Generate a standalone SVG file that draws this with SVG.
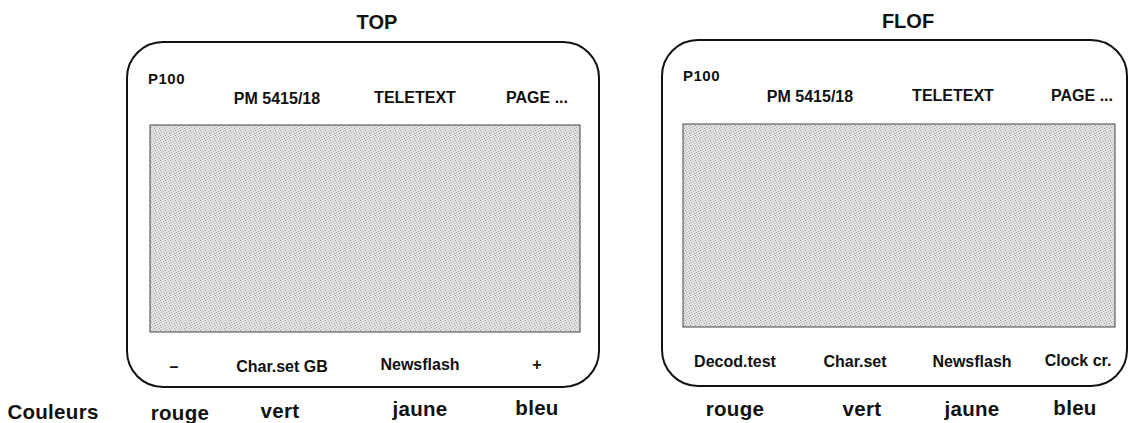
<svg xmlns="http://www.w3.org/2000/svg" width="1136" height="423" viewBox="0 0 1136 423">
<defs>
<pattern id="dots" width="5" height="5" patternUnits="userSpaceOnUse">
<rect width="5" height="5" fill="#e2e2e2"/>
<rect x="0" y="0" width="1" height="1" fill="#9a9a9a"/>
<rect x="3" y="1" width="1" height="1" fill="#b4b4b4"/>
<rect x="1" y="2" width="1" height="1" fill="#a8a8a8"/>
<rect x="4" y="3" width="1" height="1" fill="#a0a0a0"/>
<rect x="2" y="4" width="1" height="1" fill="#bcbcbc"/>
</pattern>
</defs>
<style>
text{font-family:"Liberation Sans",Arial,sans-serif;font-weight:bold;fill:#111}
.t{font-size:20px;text-anchor:middle}
.s{font-size:16px;text-anchor:middle}
.p{font-size:15px;letter-spacing:0.5px}
.c{font-size:20.5px;text-anchor:middle;letter-spacing:0.3px}
.frame{fill:none;stroke:#111;stroke-width:2}
.screen{fill:url(#dots);stroke:#444;stroke-width:1}
</style>
<rect width="1136" height="423" fill="#fff"/>
<g id="top">
<text class="t" x="377" y="29">TOP</text>
<rect class="frame" x="127" y="42" width="472" height="345" rx="36" ry="36"/>
<text class="p" x="148" y="84">P100</text>
<text class="s" x="277" y="104">PM 5415/18</text>
<text class="s" x="415" y="103">TELETEXT</text>
<text class="s" x="537" y="103">PAGE ...</text>
<rect class="screen" x="150" y="125" width="430" height="207"/>
<text class="s" x="174" y="372">–</text>
<text class="s" x="282" y="372">Char.set GB</text>
<text class="s" x="420" y="370">Newsflash</text>
<text class="s" x="537" y="370">+</text>
</g>
<g id="flof">
<text class="t" x="908" y="28">FLOF</text>
<rect class="frame" x="662" y="40" width="465" height="346" rx="36" ry="36"/>
<text class="p" x="683" y="81">P100</text>
<text class="s" x="810" y="102">PM 5415/18</text>
<text class="s" x="953" y="101">TELETEXT</text>
<text class="s" x="1082" y="101">PAGE ...</text>
<rect class="screen" x="683" y="124" width="432" height="203"/>
<text class="s" x="735" y="367">Decod.test</text>
<text class="s" x="855" y="367">Char.set</text>
<text class="s" x="972" y="367">Newsflash</text>
<text class="s" x="1078" y="366">Clock cr.</text>
</g>
<g id="couleurs">
<text class="c" x="53" y="419">Couleurs</text>
<text class="c" x="180" y="420">rouge</text>
<text class="c" x="280" y="418">vert</text>
<text class="c" x="420" y="416">jaune</text>
<text class="c" x="537" y="415">bleu</text>
<text class="c" x="735" y="416">rouge</text>
<text class="c" x="862" y="416">vert</text>
<text class="c" x="972" y="416">jaune</text>
<text class="c" x="1075" y="415">bleu</text>
</g>
</svg>
